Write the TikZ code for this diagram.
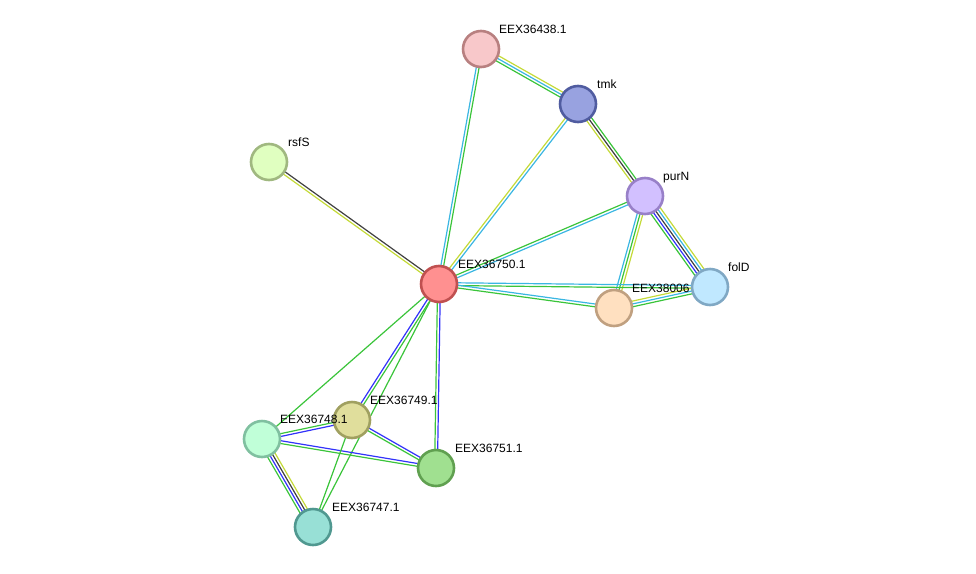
\documentclass[tikz,border=0pt]{standalone}
\usepackage{fontspec}
\setmainfont{Liberation Sans}
\usetikzlibrary{calc}
\pgfdeclarelayer{background}
\pgfsetlayers{background,main}
\definecolor{eg}{RGB}{58,196,58}
\definecolor{ec}{RGB}{58,182,226}
\definecolor{ey}{RGB}{196,218,56}
\definecolor{ek}{RGB}{64,64,64}
\definecolor{eb}{RGB}{50,50,250}
\tikzset{
  prot/.style 2 args={circle, minimum size=36pt, inner sep=0pt, line width=2.6pt, draw=#2, fill=#1},
  lbl/.style={anchor=base west, inner sep=0pt, font=\fontsize{12}{14}\selectfont},
  eline/.style={line width=1.2pt}
}
\newcommand\sedge[3]{%
  \foreach \ecol [count=\ei] in {#3} {\xdef\ecnt{\ei}}%
  \foreach \ecol [count=\ei] in {#3} {%
    \pgfmathsetmacro\eoff{(\ei-(\ecnt+1)/2)*2.8}%
    \draw[eline, \ecol] ($(#1)!\eoff pt!90:(#2)$) -- ($(#2)!\eoff pt!-90:(#1)$);
  }%
}
\definecolor{c438}{RGB}{248,200,202}\definecolor{b438}{RGB}{184,128,128}
\definecolor{ctmk}{RGB}{152,162,224}\definecolor{btmk}{RGB}{80,92,160}
\definecolor{crsf}{RGB}{224,255,192}\definecolor{brsf}{RGB}{160,184,128}
\definecolor{cpur}{RGB}{210,192,255}\definecolor{bpur}{RGB}{152,128,200}
\definecolor{c750}{RGB}{255,144,144}\definecolor{b750}{RGB}{192,80,80}
\definecolor{cfol}{RGB}{192,232,255}\definecolor{bfol}{RGB}{128,168,196}
\definecolor{c006}{RGB}{255,224,192}\definecolor{b006}{RGB}{192,160,128}
\definecolor{c748}{RGB}{192,255,216}\definecolor{b748}{RGB}{128,192,160}
\definecolor{c749}{RGB}{224,222,156}\definecolor{b749}{RGB}{160,160,96}
\definecolor{c751}{RGB}{160,224,144}\definecolor{b751}{RGB}{96,160,80}
\definecolor{c747}{RGB}{152,224,214}\definecolor{b747}{RGB}{80,152,144}
\begin{document}
\begin{tikzpicture}[x=1pt,y=-1pt]
\useasboundingbox (0,0) rectangle (976,573);
\node[prot={c438}{b438}] (n438) at (481,49) {};
\node[prot={ctmk}{btmk}] (ntmk) at (578,104) {};
\node[prot={crsf}{brsf}] (nrsf) at (269,162) {};
\node[prot={cpur}{bpur}] (npur) at (645,196) {};
\node[prot={c750}{b750}] (n750) at (439,284) {};
\node[prot={cfol}{bfol}] (nfol) at (710,287) {};
\node[prot={c006}{b006}] (n006) at (614,308) {};
\node[prot={c748}{b748}] (n748) at (262,439) {};
\node[prot={c749}{b749}] (n749) at (352,420) {};
\node[prot={c751}{b751}] (n751) at (436,468) {};
\node[prot={c747}{b747}] (n747) at (313,527) {};
\begin{pgfonlayer}{background}
\sedge{n438}{ntmk}{eg,ec,ey}
\sedge{n438}{n750}{ec,eg}
\sedge{ntmk}{n750}{ey,ec}
\sedge{ntmk}{npur}{ey,ek,eg}
\sedge{npur}{n750}{eg,ec}
\sedge{npur}{n006}{ec,eg,ey}
\sedge{npur}{nfol}{eg,eb,ek,ec,ey}
\sedge{n750}{nfol}{eg,ec}
\sedge{n750}{n006}{eg,ec}
\sedge{n006}{nfol}{eg,ec,ey}
\sedge{nrsf}{n750}{ey,ek}
\sedge{n750}{n748}{eg}
\sedge{n750}{n749}{eb,eg}
\sedge{n750}{n751}{eg,eb}
\sedge{n750}{n747}{eg}
\sedge{n748}{n749}{eb,eg}
\sedge{n748}{n751}{eg,eb}
\sedge{n749}{n751}{eg,eb}
\sedge{n748}{n747}{eg,eb,ek,ey}
\sedge{n749}{n747}{eg}
\end{pgfonlayer}
\node[lbl] (t438) at ($(n438)+(18,-16)$) {EEX36438.1};
\node[lbl] (ttmk) at ($(ntmk)+(19,-16)$) {tmk};
\node[lbl] (trsf) at ($(nrsf)+(19,-16)$) {rsfS};
\node[lbl] (tpur) at ($(npur)+(18,-16)$) {purN};
\node[lbl] (t750) at ($(n750)+(19,-16)$) {EEX36750.1};
\node[lbl] (tfol) at ($(nfol)+(18,-16)$) {folD};
\node[lbl] (t006) at ($(n006)+(18,-16)$) {EEX38006};
\node[lbl] (t748) at ($(n748)+(18,-16)$) {EEX36748.1};
\node[lbl] (t749) at ($(n749)+(18,-16)$) {EEX36749.1};
\node[lbl] (t751) at ($(n751)+(19,-16)$) {EEX36751.1};
\node[lbl] (t747) at ($(n747)+(19,-16)$) {EEX36747.1};
\end{tikzpicture}
\end{document}
